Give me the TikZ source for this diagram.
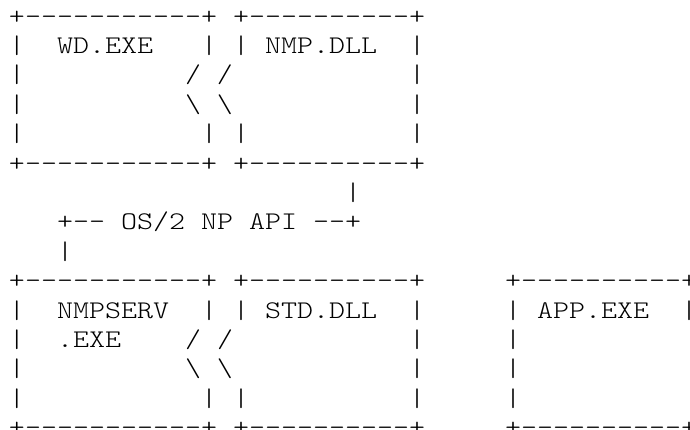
\documentclass[tikz,border=0pt]{standalone}
\usepackage{fontspec}
\newfontfamily\asciifont{lmmonolt10-regular.otf}[FakeStretch=1.2]

\begin{document}
\begin{tikzpicture}[
    ascii/.style={anchor=base west, inner sep=0pt, outer sep=0pt,
        font=\asciifont\fontsize{12.7pt}{14.7pt}\selectfont}
]

% Frame
\useasboundingbox (0,0) rectangle (345pt,-214.5pt);

% Rows of the text picture
\foreach \txt [count=\r from 0] in {
    {+-----------+~+----------+},
    {|~~WD.EXE~~~|~|~NMP.DLL~~|},
    {|~~~~~~~~~~/~/~~~~~~~~~~~|},
    {|~~~~~~~~~~\textbackslash~\textbackslash~~~~~~~~~~~|},
    {|~~~~~~~~~~~|~|~~~~~~~~~~|},
    {+-----------+~+----------+},
    {~~~~~~~~~~~~~~~~~~~~~|},
    {~~~+--~OS/2~NP~API~--+},
    {~~~|},
    {+-----------+~+----------+~~~~~+----------+},
    {|~~NMPSERV~~|~|~STD.DLL~~|~~~~~|~APP.EXE~~|},
    {|~~.EXE~~~~/~/~~~~~~~~~~~|~~~~~|},
    {|~~~~~~~~~~\textbackslash~\textbackslash~~~~~~~~~~~|~~~~~|},
    {|~~~~~~~~~~~|~|~~~~~~~~~~|~~~~~|},
    {+-----------+~+----------+~~~~~+----------+}
} {
    \node[ascii] (row\r) at (4.5pt, {-(12+14.7*\r)*1pt}) {\txt};
}

\end{tikzpicture}
\end{document}
